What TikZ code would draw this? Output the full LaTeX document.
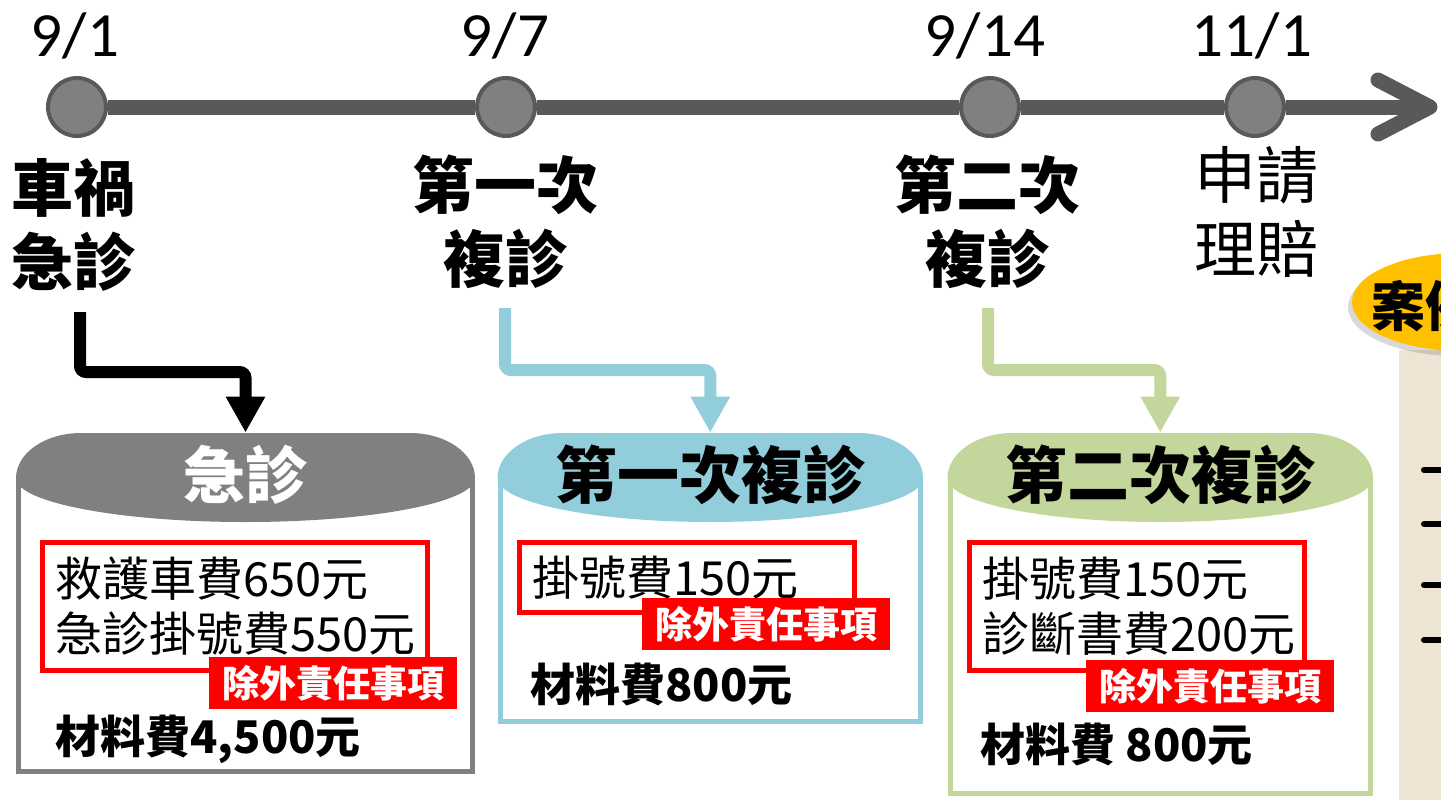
\documentclass[tikz,border=0pt]{standalone}
\usepackage{fontspec}
\setmainfont{Noto Sans CJK TC}
\newfontfamily\datefont{Carlito}
\usepackage{tikz}
\usetikzlibrary{arrows.meta,calc,shadows}
\definecolor{Axis}{RGB}{89,89,89}
\definecolor{Dot}{RGB}{128,128,128}
\definecolor{Emerg}{RGB}{128,128,128}
\definecolor{FirstV}{RGB}{146,205,220}
\definecolor{SecondV}{RGB}{195,214,155}
\definecolor{Excl}{RGB}{255,0,0}
\definecolor{CaseTag}{RGB}{255,192,0}
\definecolor{Panel}{RGB}{238,228,212}
\tikzset{
  daydot/.style={circle,fill=Dot,draw=Axis,line width=2pt,minimum size=29pt,inner sep=0pt},
  datelabel/.style={font=\datefont\fontsize{31.5}{36}\selectfont},
  event/.style={align=center,font=\bfseries\fontsize{31}{37}\selectfont},
  timeline/.style={draw=Axis,line width=7.5pt},
  chevron/.style={draw=Axis,line width=7.5pt,line cap=round,line join=round},
  elbow/.style={line width=6pt,rounded corners=3pt,-{Triangle[length=18pt,width=18.5pt]}},
  boxtitle/.style={font=\bfseries\fontsize{31}{36}\selectfont,minimum height=42pt},
  fee/.style={draw=Excl,line width=2.5pt,anchor=north west,align=left,inner xsep=6.25pt,
    font=\fontsize{23.5}{27.5}\selectfont},
  excl/.style={fill=Excl,text=white,anchor=north west,inner sep=0pt,
    minimum width=124pt,minimum height=26pt,font=\bfseries\fontsize{18.5}{20}\selectfont},
  material/.style={anchor=west,inner sep=0pt,font=\bfseries\fontsize{22.5}{27}\selectfont},
  casetitle/.style={anchor=west,font=\bfseries\fontsize{27}{30}\selectfont},
  itemdash/.style={line width=3pt,line cap=round}
}
\newcommand{\VisitBox}[7]{% name xmin xmax ybottom colour title titlecolour
\draw[line width=2.5pt,#5] (#2,478) -- (#2,#4) -- (#3,#4) -- (#3,478);
\fill[#5] (#2-2.5,478) arc[start angle=180,end angle=270,x radius=65,y radius=45]
  -- (#3-62.5,433) arc[start angle=270,end angle=360,x radius=65,y radius=45]
  arc[start angle=0,end angle=180,x radius={(#3-#2+5)/2},y radius=44] -- cycle;
\node[boxtitle,text=#7] (#1) at ({(#2+#3)/2},475) {#6};
}

\begin{document}
\begin{tikzpicture}[x=0.5pt,y=-0.5pt]
\useasboundingbox (0,0) rectangle (1441,799);
\clip (0,0) rectangle (1441,799);
% time line
\node[daydot] (d1) at (77,107) {};
\node[daydot] (d2) at (506,107) {};
\node[daydot] (d3) at (990,107) {};
\node[daydot] (d4) at (1255,107) {};
\coordinate (tend) at (1430,107);
\draw[timeline] (d1) -- (d2) (d2) -- (d3) (d3) -- (d4) (d4) -- (tend);
\draw[chevron] ($(tend)+(-52,-27)$) -- (tend) -- ($(tend)+(-52,27)$);
\node[datelabel] (t1) at (75,36) {9/1};
\node[datelabel] (t2) at (505,36) {9/7};
\node[datelabel] (t3) at (985,36) {9/14};
\node[datelabel] (t4) at (1252,36) {11/1};
% events
\node[event] (e1) at (73,225) {車禍\\急診};
\node[event] (e2) at (505,222) {第一次\\複診};
\node[event] (e3) at (987,222) {第二次\\複診};
\node[event,font=\fontsize{31}{37}\selectfont] (e4) at (1256,212) {申請\\理賠};
% visits
\VisitBox{hd1}{18.5}{472.5}{771}{Emerg}{急診}{white}
\VisitBox{hd2}{500}{920.5}{721}{FirstV}{第一次複診}{black}
\VisitBox{hd3}{950}{1370.5}{793}{SecondV}{第二次複診}{black}
\coordinate (s1) at (80,312);
\coordinate (s2) at (505,308);
\coordinate (s3) at (988,308);
\draw[elbow,black] (s1) -- ++(0,60) -| (hd1.north);
\draw[elbow,FirstV] (s2) -- ++(0,62) -| (hd2.north);
\draw[elbow,SecondV] (s3) -- ++(0,62) -| (hd3.north);
% costs
\node[fee,text width=180pt,minimum height=64pt] (f1) at (40,540) {救護車費650元\\急診掛號費550元};
\node[excl] (x1) at (209,657) {除外責任事項};
\node[material] (m1) at (55,739) {材料費4,500元};
\node[fee,text width=155pt,minimum height=35pt] (f2) at (517,540) {掛號費150元};
\node[excl] (x2) at (642,598) {除外責任事項};
\node[material] (m2) at (530,684) {材料費800元};
\node[fee,text width=155pt,minimum height=64pt] (f3) at (967,540) {掛號費150元\\診斷書費200元};
\node[excl] (x3) at (1086,660) {除外責任事項};
\node[material] (m3) at (980,744) {材料費 800元};
% case panel
\fill[Panel] (1399,350) rectangle (1450,805);
\fill[CaseTag,drop shadow={shadow xshift=-2pt,shadow yshift=-2.5pt,opacity=0.3}] (1462,302) ellipse[x radius=110,y radius=49];
\node[casetitle] (case) at (1364,306) {案例};
\draw[itemdash] (1424,470) -- (1450,470) (1424,524) -- (1450,524)
  (1424,585) -- (1450,585) (1424,640) -- (1450,640);
\end{tikzpicture}
\end{document}
